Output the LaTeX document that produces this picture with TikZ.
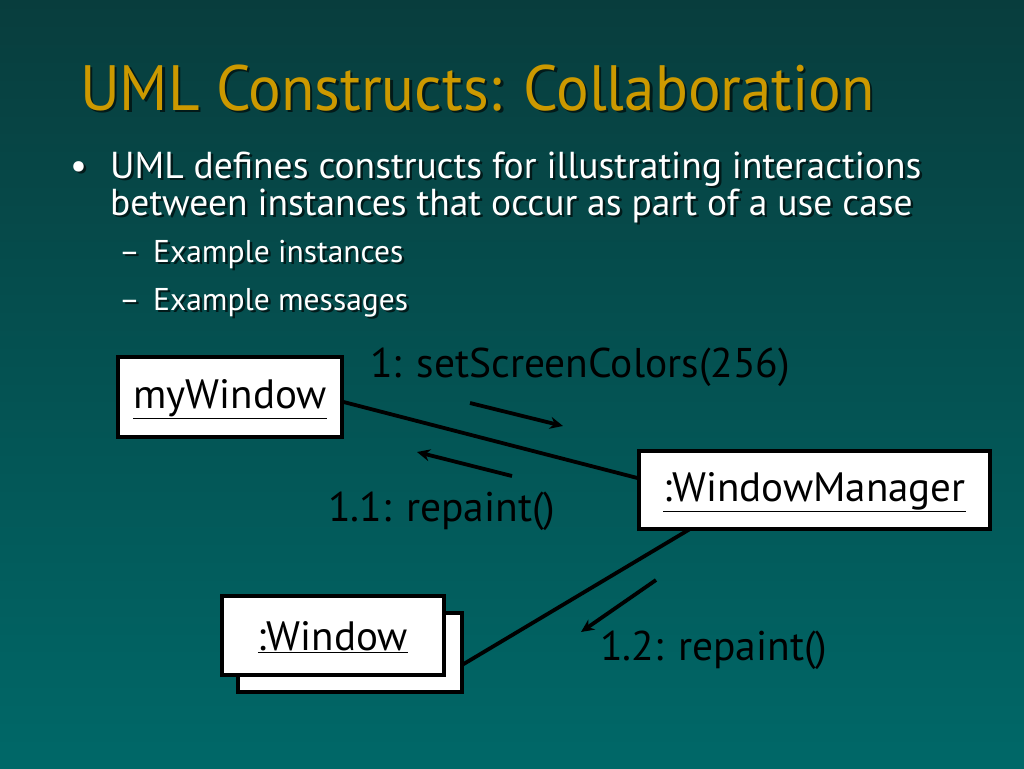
\documentclass[tikz,border=0pt]{standalone}
\usepackage{fontspec}
\setmainfont{PT Sans}
\usetikzlibrary{arrows.meta}
\definecolor{bgtop}{HTML}{083D3D}
\definecolor{bgbot}{HTML}{006868}
\definecolor{titlegold}{HTML}{CC9900}
\definecolor{shadowcol}{HTML}{021A1A}
\newcommand{\shadowed}[2]{\rlap{\hspace*{2.5pt}\raisebox{-2.5pt}{\textcolor{shadowcol}{#2}}}\textcolor{#1}{#2}}
\tikzset{
  obj/.style={draw=black, line width=3.2pt, fill=white, inner sep=0pt},
  objtext/.style={font=\fontsize{41}{46}\selectfont, text=black},
  msg/.style={font=\fontsize{41.5}{46}\selectfont, text=black, inner sep=0pt},
  link/.style={line width=3.8pt, draw=black},
  msgarrow/.style={line width=3.8pt, draw=black, -{Stealth[length=13pt,width=12pt]}},
  bigtxt/.style={anchor=base west, inner sep=0pt, font=\fontsize{37.5}{42}\selectfont},
  smalltxt/.style={anchor=base west, inner sep=0pt, font=\fontsize{31.5}{36}\selectfont},
}
\begin{document}
\begin{tikzpicture}[x=1pt,y=-1pt]
\shade[top color=bgtop, bottom color=bgbot] (0,0) rectangle (1024,768);
\useasboundingbox (0,0) rectangle (1024,768);
% title
\node[anchor=base west, inner sep=0pt, font=\fontsize{61}{70}\selectfont] (title) at (80,110) {\scalebox{1}[1.05]{\shadowed{titlegold}{UML Constructs: Collaboration}}};
% bullets
\node[bigtxt] (b0) at (70,178) {\shadowed{white}{•}};
\node[bigtxt] (b1) at (110,178) {\shadowed{white}{UML defines constructs for illustrating interactions}};
\node[bigtxt] (b2) at (110,215) {\shadowed{white}{between instances that occur as part of a use case}};
\node[smalltxt] (d1) at (119,262) {\shadowed{white}{–}};
\node[smalltxt] (s1) at (153,262) {\shadowed{white}{Example instances}};
\node[smalltxt] (d2) at (119,310) {\shadowed{white}{–}};
\node[smalltxt] (s2) at (153,310) {\shadowed{white}{Example messages}};
% objects
\node[obj, minimum width=224pt, minimum height=80pt] (mywin) at (230,397) {};
\node[objtext] at ([yshift=-2pt]mywin.center) {\underline{myWindow}};
\node[obj, minimum width=351pt, minimum height=78pt] (wm) at (814.5,490) {};
\node[objtext] at ([yshift=-2pt]wm.center) {\underline{:WindowManager}};
\node[obj, minimum width=224pt, minimum height=79pt] (winback) at (350,652.5) {};
\node[obj, minimum width=222pt, minimum height=79pt] (win) at (333,635.5) {};
\node[objtext] at ([yshift=-2pt]win.center) {\underline{:Window}};
% links
\draw[link] (mywin.east |- 0,402) -- (wm.west |- 0,478);
\coordinate (wmb) at (690,529);
\coordinate (wbr) at (462,665);
\draw[link] (wmb) -- (wbr);
% messages
\node[msg, anchor=west] (m1) at (370,367) {1: setScreenColors(256)};
\coordinate (a1s) at (470,403);
\coordinate (a1e) at (563,426);
\draw[msgarrow] (a1s) -- (a1e);
\coordinate (a2s) at (512,476);
\coordinate (a2e) at (417,452);
\draw[msgarrow] (a2s) -- (a2e);
\node[msg, anchor=west] (m2) at (328,511) {1.1: repaint()};
\coordinate (a3s) at (656,580);
\coordinate (a3e) at (581,632);
\draw[msgarrow] (a3s) -- (a3e);
\node[msg, anchor=west] (m3) at (600,650) {1.2: repaint()};
\end{tikzpicture}
\end{document}
